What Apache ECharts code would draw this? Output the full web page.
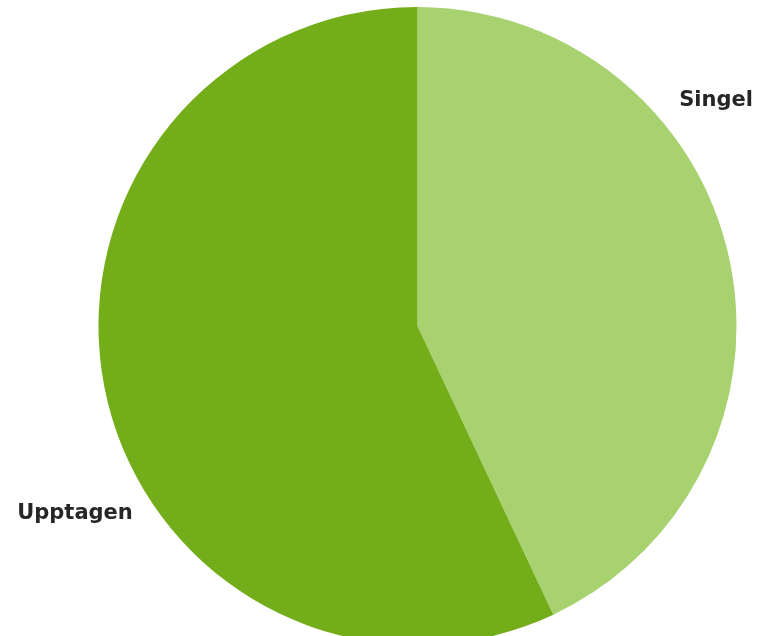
<!DOCTYPE html>
<html>
<head>
<meta charset="utf-8">
<script src="https://cdn.jsdelivr.net/npm/echarts@6/dist/echarts.min.js"></script>
<style>html,body{margin:0;padding:0;background:#fff}#c{width:773px;height:636px}</style>
</head>
<body>
<div id="c"></div>
<script>
const categories = ['Singel', 'Upptagen'];
const values = [43, 57];
const colors = ['#a8d26f', '#74ad1a'];
const labelPos = { Singel: [716, 101], Upptagen: [75, 514] };

const chart = echarts.init(document.getElementById('c'), null, { renderer: 'canvas' });
chart.setOption({
  animation: false,
  series: [{
    type: 'pie',
    center: [417.5, 326],
    radius: [0, 319],
    startAngle: 90,
    clockwise: true,
    silent: true,
    avoidLabelOverlap: false,
    data: categories.map((n, i) => ({ name: n, value: values[i], itemStyle: { color: colors[i] } })),
    label: {
      show: true,
      position: 'outside',
      formatter: '{b}',
      overflow: 'none',
      width: 300,
      fontFamily: 'DejaVu Sans',
      fontWeight: 'bold',
      fontSize: 21,
      color: '#262626'
    },
    labelLine: { show: false },
    labelLayout: function (p) {
      const n = categories[p.dataIndex];
      return { x: labelPos[n][0], y: labelPos[n][1], align: 'center', verticalAlign: 'middle', hideOverlap: false };
    }
  }]
});
</script>
</body>
</html>
